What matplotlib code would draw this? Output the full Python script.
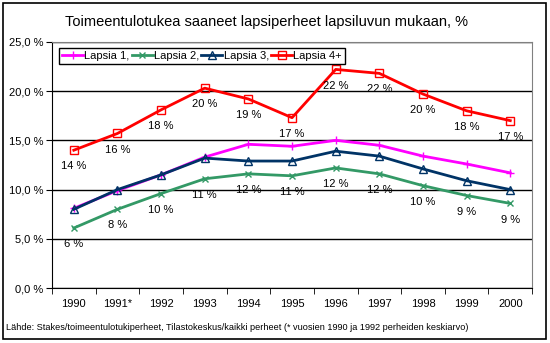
import matplotlib.pyplot as plt
from matplotlib.ticker import FuncFormatter

plt.rcParams['font.family'] = ['Liberation Sans', 'DejaVu Sans']

years = ['1990', '1991*', '1992', '1993', '1994', '1995', '1996', '1997', '1998', '1999', '2000']
lapsia_1 = [8.1, 9.9, 11.5, 13.3, 14.6, 14.4, 15.0, 14.5, 13.4, 12.6, 11.7]
lapsia_2 = [6.1, 8.0, 9.6, 11.1, 11.6, 11.4, 12.2, 11.6, 10.4, 9.4, 8.6]
lapsia_3 = [8.0, 10.0, 11.5, 13.2, 12.9, 12.9, 13.9, 13.4, 12.1, 10.9, 10.0]
lapsia_4 = [14.0, 15.7, 18.1, 20.3, 19.2, 17.3, 22.2, 21.8, 19.7, 18.0, 17.0]

fig = plt.figure(figsize=(5.5, 3.43), dpi=100)
ax = fig.add_axes([0.0945, 0.160, 0.873, 0.718])

x = list(range(len(years)))
ax.plot(x, lapsia_1, color='#FF00FF', lw=2, marker='+', ms=6, mew=1, label='Lapsia 1,')
ax.plot(x, lapsia_2, color='#339966', lw=2, marker='x', ms=4, mew=1, label='Lapsia 2,')
ax.plot(x, lapsia_3, color='#003366', lw=2, marker='^', ms=6, mew=1, mfc='none', label='Lapsia 3,')
ax.plot(x, lapsia_4, color='#FF0000', lw=2, marker='s', ms=6, mew=1, mfc='none', label='Lapsia 4+')

# value labels under the points of Lapsia 2 and Lapsia 4+
for series in (lapsia_2, lapsia_4):
    for xi, v in zip(x, series):
        ax.annotate(f'{round(v):.0f} %', (xi, v), xytext=(0, -8), textcoords='offset points',
                    ha='center', va='top', fontsize=8)

ax.set_xlim(-0.5, len(years) - 0.5)
ax.set_ylim(0, 25)
ax.set_yticks([0, 5, 10, 15, 20, 25])
ax.yaxis.set_major_formatter(FuncFormatter(lambda v, p: f'{v:.1f} %'.replace('.', ',')))
ax.set_xticks(x)
ax.set_xticklabels(years)
ax.set_xticks([i - 0.5 for i in range(len(years) + 1)], minor=True)
ax.tick_params(axis='x', which='major', length=0, pad=8, labelsize=8)
ax.tick_params(axis='x', which='minor', length=4, direction='out', color='black')
ax.tick_params(axis='y', length=4, direction='out', labelsize=8, pad=2)

ax.grid(axis='y', color='black', lw=1)
ax.set_axisbelow(True)
for side in ('top', 'right'):
    ax.spines[side].set_color('#808080')
for side in ('left', 'bottom'):
    ax.spines[side].set_color('black')

leg = ax.legend(loc='upper left', bbox_to_anchor=(0.015, 0.975), ncol=4, fontsize=8,
                frameon=True, fancybox=False, edgecolor='black', framealpha=1,
                handlelength=1.9, handletextpad=0.1, columnspacing=0.2, borderpad=0.25,
                borderaxespad=0)
leg.get_frame().set_linewidth(1)

fig.text(0.484, 0.935, 'Toimeentulotukea saaneet lapsiperheet lapsiluvun mukaan, %',
         ha='center', va='center', fontsize=10.5)
fig.text(0.011, 0.044,
         'Lähde: Stakes/toimeentulotukiperheet, Tilastokeskus/kaikki perheet (* vuosien 1990 ja 1992 perheiden keskiarvo)',
         ha='left', va='center', fontsize=6.6)

# frame around the whole chart
fig.patches.append(plt.Rectangle((0.005, 0.012), 0.988, 0.978, transform=fig.transFigure,
                                 fill=False, edgecolor='black', lw=1.2))

fig.savefig('out.png', dpi=100)
